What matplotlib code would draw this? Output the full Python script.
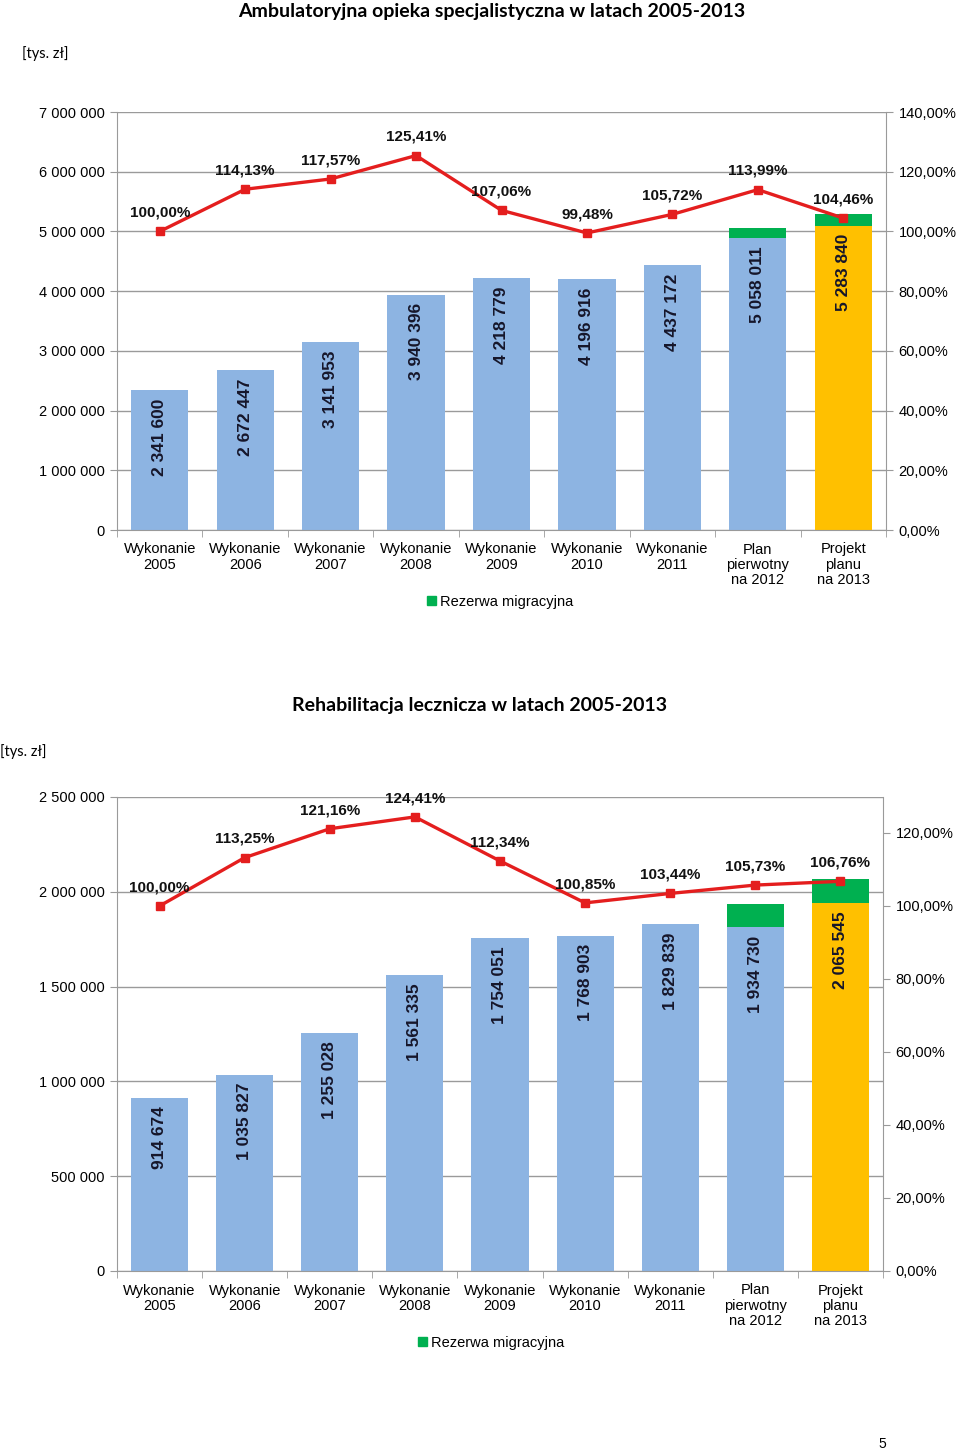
import matplotlib
matplotlib.use("Agg")
import matplotlib.pyplot as plt
import matplotlib.patches as patches
from matplotlib.ticker import FuncFormatter, FixedLocator
import numpy as np

# figure size in pixels
W = 960
H = 1453

# categories shared by both charts
categories = ["Wykonanie\n2005", "Wykonanie\n2006", "Wykonanie\n2007", "Wykonanie\n2008",
              "Wykonanie\n2009", "Wykonanie\n2010", "Wykonanie\n2011",
              "Plan\npierwotny\nna 2012", "Projekt\nplanu\nna 2013"]

# chart 1 - Ambulatoryjna opieka specjalistyczna
amb_totals = [2341600, 2672447, 3141953, 3940396, 4218779, 4196916, 4437172, 5058011, 5283840]
amb_reserve = [0, 0, 0, 0, 0, 0, 0, 175000, 185000]
amb_pct = [100.00, 114.13, 117.57, 125.41, 107.06, 99.48, 105.72, 113.99, 104.46]

# chart 2 - Rehabilitacja lecznicza
reh_totals = [914674, 1035827, 1255028, 1561335, 1754051, 1768903, 1829839, 1934730, 2065545]
reh_reserve = [0, 0, 0, 0, 0, 0, 0, 121000, 127000]
reh_pct = [100.00, 113.25, 121.16, 124.41, 112.34, 100.85, 103.44, 105.73, 106.76]

# colours
blue = "#8DB4E2"
yellow = "#FFC000"
green = "#00B050"
red = "#E41E1E"
grid_color = "#9A9A9A"

font = "Liberation Sans"
title_font = "Lato"
plt.rcParams["font.family"] = [font, "DejaVu Sans"]


def fig_box(left, top, right, bottom):
    return [left / W, 1 - bottom / H, (right - left) / W, (bottom - top) / H]


def fmt_thousands(v, pos):
    return "{:,.0f}".format(v).replace(",", " ")


def fmt_pct(v, pos):
    return "{:.2f}%".format(v * 100).replace(".", ",")


def draw_chart(fig, box, totals, reserve, pct, y_max, y_step, pct_max, pct_ticks):
    ax = fig.add_axes(box)
    x = np.arange(len(totals))
    base = [t - r for t, r in zip(totals, reserve)]
    base_colors = [blue] * (len(totals) - 1) + [yellow]

    ax.bar(x, base, width=0.67, color=base_colors, zorder=2)
    ax.bar(x, reserve, width=0.67, bottom=base, color=green, zorder=2)

    # value labels inside the bars
    for i in range(len(totals)):
        ax.annotate(fmt_thousands(totals[i], None), (x[i], base[i]),
                    xytext=(0, -6), textcoords="offset points",
                    rotation=90, ha="center", va="top",
                    fontsize=12.5, fontweight="bold", color="#16162A", zorder=5)

    ax.set_xlim(-0.5, len(totals) - 0.5)
    ax.set_ylim(0, y_max)
    ax.set_yticks(np.arange(0, y_max + 1, y_step))
    ax.yaxis.set_major_formatter(FuncFormatter(fmt_thousands))
    ax.yaxis.grid(True, color=grid_color, lw=1, zorder=0)
    ax.set_axisbelow(True)

    ax.set_xticks(x)
    ax.set_xticklabels(categories, fontsize=10.5, linespacing=1.1)
    ax.xaxis.set_minor_locator(FixedLocator(np.arange(-0.5, len(totals), 1)))
    ax.tick_params(axis="x", which="major", length=0, pad=9)
    ax.tick_params(axis="x", which="minor", length=5, color=grid_color, direction="out")
    ax.tick_params(axis="y", length=5, color=grid_color, pad=4, labelsize=10.5)

    for side in ["left", "bottom"]:
        ax.spines[side].set_color(grid_color)
    ax.spines["top"].set_visible(False)
    ax.spines["right"].set_visible(False)

    # percentage line on the right axis
    ax2 = ax.twinx()
    pct_vals = [p / 100 for p in pct]
    ax2.plot(x, pct_vals, color=red, lw=2.4, marker="s", markersize=6, zorder=6)
    for i in range(len(pct)):
        ax2.annotate("{:.2f}%".format(pct[i]).replace(".", ","), (x[i], pct_vals[i]),
                     xytext=(0, 13.5), textcoords="offset points",
                     ha="center", va="center", fontsize=11, fontweight="bold",
                     color="#111111", zorder=7)
    ax2.set_ylim(0, pct_max)
    ax2.set_yticks(pct_ticks)
    ax2.yaxis.set_major_formatter(FuncFormatter(fmt_pct))
    ax2.tick_params(axis="y", length=5, color=grid_color, pad=4, labelsize=10.5)
    ax2.spines["right"].set_color(grid_color)
    ax2.spines["left"].set_visible(False)
    ax2.spines["top"].set_visible(False)
    ax2.spines["bottom"].set_visible(False)
    return ax


fig = plt.figure(figsize=(W / 100, H / 100), dpi=100)

# chart 1
draw_chart(fig, fig_box(117, 112, 886, 530), amb_totals, amb_reserve, amb_pct,
           7000000, 1000000, 1.4, np.arange(0, 1.41, 0.2))
fig.text(492 / W, 1 - 11 / H, "Ambulatoryjna opieka specjalistyczna w latach 2005-2013",
         ha="center", va="center", fontsize=14, fontweight="bold", family=title_font)
fig.text(22 / W, 1 - 54 / H, "[tys. zł]", ha="left", va="center", fontsize=10.5, family=title_font)
fig.legend(handles=[patches.Patch(color=green, label="Rezerwa migracyjna")],
           loc="center", bbox_to_anchor=(500 / W, 1 - 602 / H), frameon=False,
           prop={"size": 10.5}, handlelength=0.6, handleheight=0.6,
           handletextpad=0.3)

# chart 2
draw_chart(fig, fig_box(117, 797, 883, 1271), reh_totals, reh_reserve, reh_pct,
           2500000, 500000, 1.2986, np.arange(0, 1.21, 0.2))
fig.text(480 / W, 1 - 705 / H, "Rehabilitacja lecznicza w latach 2005-2013",
         ha="center", va="center", fontsize=14, fontweight="bold", family=title_font)
fig.text(0 / W, 1 - 752 / H, "[tys. zł]", ha="left", va="center", fontsize=10.5, family=title_font)
fig.legend(handles=[patches.Patch(color=green, label="Rezerwa migracyjna")],
           loc="center", bbox_to_anchor=(491 / W, 1 - 1343 / H), frameon=False,
           prop={"size": 10.5}, handlelength=0.6, handleheight=0.6,
           handletextpad=0.3)

fig.text(882 / W, 1 - 1444 / H, "5", ha="center", va="center", fontsize=10)

fig.savefig("out.png", dpi=100)
